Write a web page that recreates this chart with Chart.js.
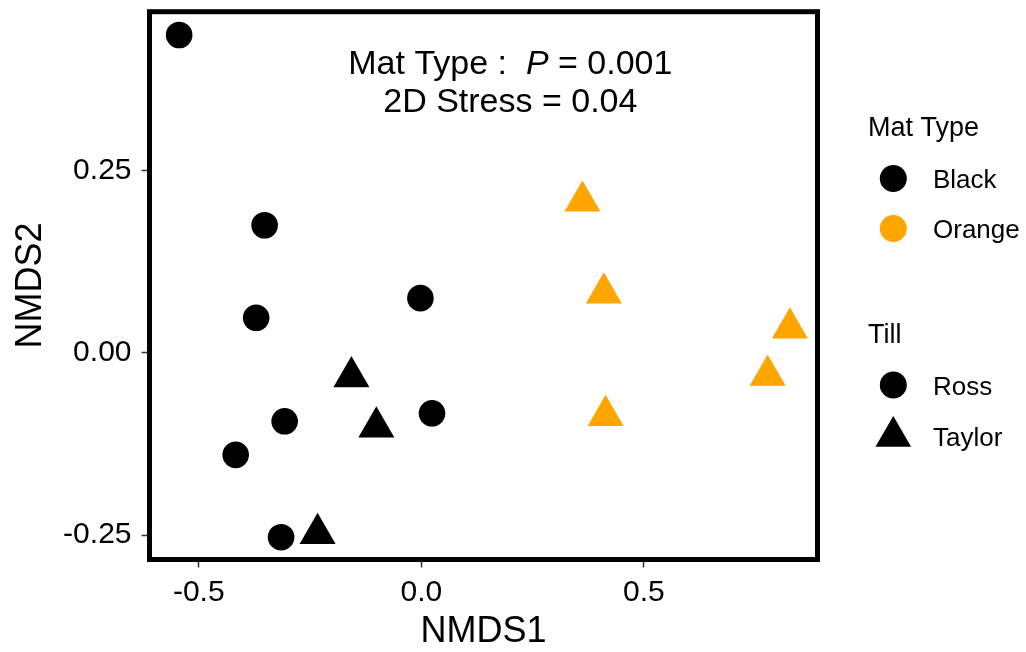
<!DOCTYPE html>
<html>
<head>
<meta charset="utf-8">
<script src="https://cdn.jsdelivr.net/npm/chart.js@4"></script>
<style>
  html, body { margin: 0; padding: 0; background: #fff; }
  #wrap { width: 1026px; height: 652px; }
</style>
</head>
<body>
<div id="wrap"><canvas id="nmds" width="1026" height="652"></canvas></div>
<script>
// ===== Data =====
const blackRossX = [-0.544, -0.352, -0.002, -0.371, -0.307, 0.024, -0.417, -0.315];
const blackRossY = [0.436, 0.175, 0.075, 0.048, -0.094, -0.083, -0.140, -0.253];
const blackTaylorX = [-0.157, -0.101, -0.233];
const blackTaylorY = [-0.033, -0.102, -0.248];
const orangeTaylorX = [0.362, 0.410, 0.828, 0.778, 0.414];
const orangeTaylorY = [0.208, 0.082, 0.034, -0.031, -0.086];

const xTicks = [-0.5, 0.0, 0.5];
const yTicks = [-0.25, 0.00, 0.25];
const xLimits = [-0.6106, 0.890];
const yLimits = [-0.2836, 0.468];

const matTypes = ['Black', 'Orange'];
const tills = ['Ross', 'Taylor'];
const annotation = { x: 0.2, label: 'Mat Type', p: '0.001', stress: '0.04' };

const BLACK = '#000000';
const ORANGE = '#FFA500';
const FONT = "'Liberation Sans', Arial, sans-serif";

const pts = (xs, ys) => xs.map((x, i) => ({ x: x, y: ys[i] }));

// panel border, annotation and the two-part legend
const extras = {
  id: 'extras',
  afterDraw(chart) {
    const { ctx, chartArea: a, scales } = chart;
    ctx.save();
    ctx.strokeStyle = BLACK;
    ctx.lineWidth = 5;
    ctx.strokeRect(a.left, a.top, a.right - a.left, a.bottom - a.top);

    // annotation text
    const cx = scales.x.getPixelForValue(annotation.x);
    ctx.fillStyle = BLACK;
    ctx.textBaseline = 'alphabetic';
    ctx.textAlign = 'left';
    const reg = '34px ' + FONT;
    const ita = 'italic 34px ' + FONT;
    const parts1 = [[annotation.label + ' :  ', reg], ['P', ita], [' = ' + annotation.p, reg]];
    let w = 0;
    parts1.forEach(p => { ctx.font = p[1]; w += ctx.measureText(p[0]).width; });
    let x = cx - w / 2;
    parts1.forEach(p => { ctx.font = p[1]; ctx.fillText(p[0], x, 74); x += ctx.measureText(p[0]).width; });
    ctx.font = reg;
    ctx.textAlign = 'center';
    ctx.fillText('2D Stress = ' + annotation.stress, cx, 112);

    // legend
    ctx.textAlign = 'left';
    ctx.font = '27px ' + FONT;
    ctx.fillText('Mat Type', 868, 136);
    ctx.fillText('Till', 868, 343);
    ctx.font = '26px ' + FONT;
    const matCols = [BLACK, ORANGE];
    matTypes.forEach((m, i) => {
      const y = 178.5 + i * 50;
      ctx.fillStyle = matCols[i];
      ctx.beginPath(); ctx.arc(893.3, y, 13.5, 0, Math.PI * 2); ctx.fill();
      ctx.fillStyle = BLACK;
      ctx.fillText(m, 933, y + 9.5);
    });
    tills.forEach((t, i) => {
      const y = 385 + i * 51.5;
      ctx.fillStyle = BLACK;
      ctx.beginPath();
      if (i === 0) {
        ctx.arc(893.3, y, 13.5, 0, Math.PI * 2);
      } else {
        const r = 20.6;
        ctx.moveTo(893.3, y - r);
        ctx.lineTo(893.3 + r * Math.sqrt(3) / 2, y + r / 2);
        ctx.lineTo(893.3 - r * Math.sqrt(3) / 2, y + r / 2);
        ctx.closePath();
      }
      ctx.fill();
      ctx.fillText(t, 933, y + 9.5);
    });
    ctx.restore();
  }
};

const ctx = document.getElementById('nmds').getContext('2d');
new Chart(ctx, {
  type: 'scatter',
  data: {
    datasets: [
      { label: 'Black / Ross', data: pts(blackRossX, blackRossY), pointStyle: 'circle',
        pointRadius: 13.3, backgroundColor: BLACK, borderWidth: 0 },
      { label: 'Black / Taylor', data: pts(blackTaylorX, blackTaylorY), pointStyle: 'triangle',
        pointRadius: 20.8, backgroundColor: BLACK, borderWidth: 0 },
      { label: 'Orange / Taylor', data: pts(orangeTaylorX, orangeTaylorY), pointStyle: 'triangle',
        pointRadius: 20.8, backgroundColor: ORANGE, borderWidth: 0 }
    ]
  },
  options: {
    responsive: false,
    animation: false,
    devicePixelRatio: 1,
    layout: { autoPadding: false, padding: { left: 0, top: 11.7, right: 208.5, bottom: 0 } },
    plugins: { legend: { display: false }, tooltip: { enabled: false } },
    scales: {
      x: {
        type: 'linear', min: xLimits[0], max: xLimits[1],
        afterBuildTicks: s => { s.ticks = xTicks.map(v => ({ value: v })); },
        afterFit: s => { s.height = 92.5; s.paddingLeft = 0; s.paddingRight = 0; },
        grid: { drawOnChartArea: false, drawTicks: true, tickLength: 8, tickColor: '#333', tickWidth: 1.5 },
        border: { display: false },
        ticks: { color: BLACK, padding: 7, font: { family: FONT, size: 30 },
                 callback: v => v.toFixed(1) },
        title: { display: true, text: 'NMDS1', color: BLACK, padding: { top: 0, bottom: 1.5 },
                 font: { family: FONT, size: 36, lineHeight: 1 } }
      },
      y: {
        type: 'linear', min: yLimits[0], max: yLimits[1],
        afterBuildTicks: s => { s.ticks = yTicks.map(v => ({ value: v })); },
        afterFit: s => { s.width = 149.5; s.paddingTop = 0; s.paddingBottom = 0; },
        grid: { drawOnChartArea: false, drawTicks: true, tickLength: 8, tickColor: '#333', tickWidth: 1.5 },
        border: { display: false },
        ticks: { color: BLACK, padding: 10, font: { family: FONT, size: 30 },
                 callback: v => v.toFixed(2) },
        title: { display: true, text: 'NMDS2', color: BLACK, padding: { top: 13, bottom: 0 },
                 font: { family: FONT, size: 36, lineHeight: 1 } }
      }
    }
  },
  plugins: [extras]
});
</script>
</body>
</html>
